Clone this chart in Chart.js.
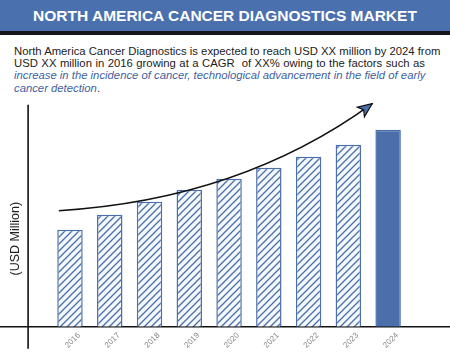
<!DOCTYPE html>
<html>
<head>
<meta charset="utf-8">
<script src="https://cdn.jsdelivr.net/npm/chart.js@4"></script>
<style>
  html, body { margin: 0; padding: 0; background: #fff; }
  body { width: 450px; height: 360px; position: relative; overflow: hidden; font-family: "Liberation Sans", Arial, sans-serif; }
  .titulo {
    position: absolute; left: 0; top: 0; width: 450px; height: 31px;
    background: #4a70ae; border-bottom: 4px solid #15161c;
    color: #fff; font-weight: bold; font-size: 15.5px; line-height: 31px; text-align: center;
  }
  .texto { position: absolute; left: 14px; top: 45px; width: 411px; font-size: 11.3px; line-height: 12.2px; color: #222; }
  .texto div { text-align: justify; text-align-last: justify; white-space: nowrap; }
  .texto div.ultima { text-align-last: left; }
  .texto i { color: #3f5f9f; }
  #grafica { position: absolute; left: 0; top: 100px; }
</style>
</head>
<body>
<div class="titulo">NORTH AMERICA CANCER DIAGNOSTICS MARKET</div>
<div class="texto">
  <div>North America Cancer Diagnostics is expected to reach USD XX million by 2024 from</div>
  <div>USD XX million in 2016 growing at a CAGR &nbsp;of XX% owing to the factors such as</div>
  <div><i>increase in the incidence of cancer, technological advancement in the field of early</i></div>
  <div class="ultima"><i>cancer detection</i>.</div>
</div>
<canvas id="grafica" width="450" height="260"></canvas>
<script>
// Datos
const anios = ['2016', '2017', '2018', '2019', '2020', '2021', '2022', '2023', '2024'];
const valores = [97, 112, 125, 137, 148, 159, 170, 182, 197];
const tituloEje = '(USD Million)';

const azul = '#4a6fab';

// patron de rayas diagonales
function rayado() {
    const c = document.createElement('canvas');
    c.width = 7;
    c.height = 7;
    const ctx = c.getContext('2d');
    ctx.fillStyle = '#f4f7fc';
    ctx.fillRect(0, 0, 7, 7);
    ctx.strokeStyle = azul;
    ctx.lineWidth = 1.3;
    ctx.beginPath();
    ctx.moveTo(-1, 8); ctx.lineTo(8, -1);
    ctx.moveTo(-1, 1); ctx.lineTo(1, -1);
    ctx.moveTo(6, 8); ctx.lineTo(8, 6);
    ctx.stroke();
    return ctx.createPattern(c, 'repeat');
}
const patron = rayado();

const colores = anios.map((a, i) => i === anios.length - 1 ? azul : patron);

// ejes, titulo del eje y flecha de tendencia
const decoracion = {
    id: 'decoracion',
    beforeDatasetsDraw(chart) {
        const { ctx, chartArea } = chart;
        const y0 = chart.scales.y.getPixelForValue(0);
        ctx.save();
        ctx.strokeStyle = '#111';
        ctx.lineWidth = 1.6;
        ctx.beginPath();
        ctx.moveTo(0, y0);
        ctx.lineTo(chart.width, y0);
        ctx.moveTo(chartArea.left - 22, chartArea.top - 2);
        ctx.lineTo(chartArea.left - 22, y0 + 22);
        ctx.stroke();

        ctx.translate(chartArea.left - 35, y0 - 88);
        ctx.rotate(-Math.PI / 2);
        ctx.fillStyle = '#222';
        ctx.font = '12.5px "Liberation Sans", Arial, sans-serif';
        ctx.textAlign = 'center';
        ctx.textBaseline = 'middle';
        ctx.fillText(tituloEje, 0, 0);
        ctx.restore();
    },
    afterDatasetsDraw(chart) {
        const { ctx } = chart;
        const x = chart.scales.x, y = chart.scales.y;
        const p0 = [x.getPixelForValue(-0.28), y.getPixelForValue(116)];
        const p1 = [x.getPixelForValue(4.28), y.getPixelForValue(127)];
        const p2 = [x.getPixelForValue(7.6), y.getPixelForValue(223)];
        ctx.save();
        ctx.strokeStyle = '#111';
        ctx.lineWidth = 1.6;
        ctx.beginPath();
        ctx.moveTo(p0[0], p0[1]);
        ctx.quadraticCurveTo(p1[0], p1[1], p2[0], p2[1]);
        ctx.stroke();

        // punta de flecha
        const ang = Math.atan2(p2[1] - p1[1], p2[0] - p1[0]);
        const largo = 14, ancho = 6;
        ctx.translate(p2[0], p2[1]);
        ctx.rotate(ang);
        ctx.beginPath();
        ctx.moveTo(0, 0);
        ctx.lineTo(-largo, -ancho);
        ctx.lineTo(-largo * 0.75, 0);
        ctx.lineTo(-largo, ancho);
        ctx.closePath();
        ctx.fillStyle = azul;
        ctx.fill();
        ctx.lineWidth = 1.2;
        ctx.stroke();
        ctx.restore();
    }
};

new Chart(document.getElementById('grafica'), {
    type: 'bar',
    data: {
        labels: anios,
        datasets: [{
            data: valores,
            backgroundColor: colores,
            borderColor: azul,
            borderWidth: 1.5,
            categoryPercentage: 1,
            barPercentage: 0.64
        }]
    },
    options: {
        responsive: false,
        animation: false,
        layout: {
            padding: { left: 0, right: 42, top: 6.7, bottom: 0 }
        },
        plugins: {
            legend: { display: false },
            tooltip: { enabled: false }
        },
        scales: {
            x: {
                grid: { display: false },
                border: { display: false },
                ticks: {
                    color: '#888',
                    font: { size: 8, family: '"Liberation Sans", Arial, sans-serif' },
                    minRotation: 45,
                    maxRotation: 45,
                    autoSkip: false,
                    labelOffset: 9,
                    padding: -4
                },
                afterFit(s) { s.height = 33.3; }
            },
            y: {
                min: 0,
                max: 220,
                grid: { display: false },
                border: { display: false },
                ticks: { display: false },
                afterFit(s) { s.width = 50.1; }
            }
        }
    },
    plugins: [decoracion]
});
</script>
</body>
</html>
